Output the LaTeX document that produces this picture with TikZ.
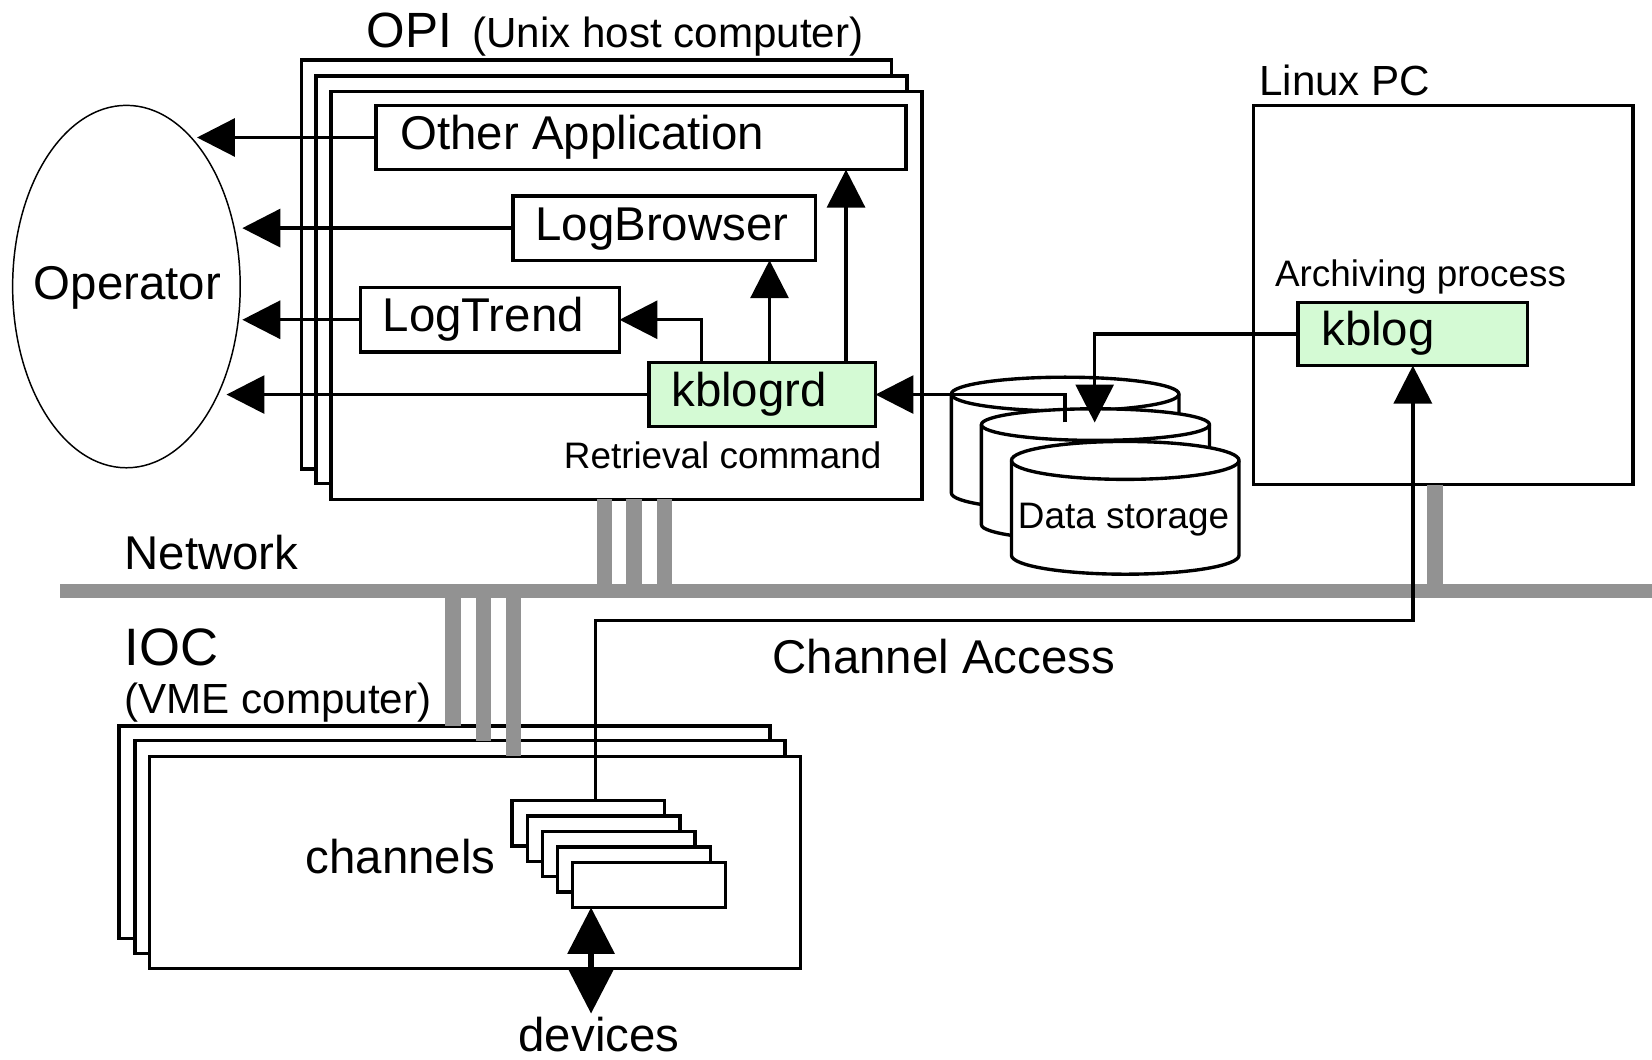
\documentclass[tikz,border=0pt]{standalone}
\usepackage{fontspec}
\setmainfont{Liberation Sans}
\usetikzlibrary{arrows.meta,shapes.geometric}
\definecolor{kgreen}{RGB}{212,250,212}
\definecolor{netgray}{RGB}{146,146,146}
\newcommand\cylshape[5]{%
  \pgfmathsetmacro\cylrx{(#2-#1)/2}%
  \filldraw[fill=white, line width=3.2pt] (#1,#3) -- (#1,#4)
    arc[start angle=180,end angle=360,x radius=\cylrx pt,y radius=#5pt]
    -- (#2,#3)
    arc[start angle=0,end angle=180,x radius=\cylrx pt,y radius=#5pt] -- cycle;
  \draw[line width=3.2pt] (#1,#3) arc[start angle=180,end angle=360,x radius=\cylrx pt,y radius=#5pt];}
\begin{document}
\begin{tikzpicture}[x=1pt,y=-1pt,
  box/.style={draw, line width=3.2pt, fill=white, inner sep=0pt, outer sep=0pt, anchor=north west},
  conn/.style={line width=3.2pt},
  tip/.style={-{Triangle[length=36pt,width=36pt]}},
  net/.style={line width=14pt, draw=netgray},
  lbl/.style={inner sep=0pt, anchor=base west},
  big/.style={font=\fontsize{45}{54}\selectfont},
  midf/.style={font=\fontsize{40}{48}\selectfont},
  smallf/.style={font=\fontsize{35}{42}\selectfont},
]
\useasboundingbox (0,0) rectangle (1568,1006);

% Operator
\node[draw, ellipse, line width=1.4pt, minimum width=216pt, minimum height=344pt, inner sep=0pt] (op) at (120,272) {};
\node[lbl, big] (optext) at (32,284) {Operator};

% OPI stack
\node[lbl, font=\fontsize{47}{56}\selectfont] (opil) at (348,45) {OPI};
\node[lbl, midf] (opil2) at (448,45) {(Unix host computer)};
\node[box, minimum width=560pt, minimum height=388pt] (opiA) at (286,57) {};
\node[box, minimum width=561pt, minimum height=387pt] (opiB) at (300,72) {};
\node[box, minimum width=561pt, minimum height=387pt] (opiC) at (314,87) {};

\node[box, minimum width=503pt, minimum height=61pt] (oa) at (357,100) {};
\node[lbl, big] (oat) at (380,142) {Other Application};
\node[box, minimum width=287pt, minimum height=61pt] (lb) at (487,186) {};
\node[lbl, big] (lbt) at (508,228) {LogBrowser};
\node[box, minimum width=246pt, minimum height=61pt] (lt) at (342,273) {};
\node[lbl, big] (ltt) at (363,315) {LogTrend};
\node[box, fill=kgreen, minimum width=215pt, minimum height=61pt] (kb) at (616,344) {};
\node[lbl, big] (kbt) at (637,386) {kblogrd};
\node[lbl, smallf] (ret) at (535,445) {Retrieval command};

% Linux PC
\node[lbl, midf] (lxl) at (1195,91) {Linux PC};
\node[box, minimum width=360pt, minimum height=360pt] (lx) at (1190,100) {};
\node[lbl, smallf] (arch) at (1210,272) {Archiving process};
\node[box, fill=kgreen, minimum width=218pt, minimum height=60pt] (kl) at (1232,287) {};
\node[lbl, big] (klt) at (1254,328) {kblog};

% Data storage
\cylshape{903}{1119}{374}{468}{16}
\cylshape{931.5}{1148}{403}{498}{15}
\cylshape{960}{1176}{437}{527}{18}
\node[lbl, smallf] (dst) at (966,502) {Data storage};

% Network
\coordinate (nL) at (57,561);
\coordinate (nR) at (1568,561);
\draw[net] (nL) -- (nR);
\node[lbl, big] (netl) at (118,541) {Network};
\foreach \x in {573.5,601.8,630.7} \draw[net, line width=14.5pt] (opiC.south -| \x,0) -- (nL -| \x,0);
\draw[net, line width=14.5pt] (lx.south -| 1362,0) -- (nL -| 1362,0);

% IOC
\node[lbl, font=\fontsize{50}{60}\selectfont] (iocl) at (118,632) {IOC};
\node[lbl, midf] (iocl2) at (118,677) {(VME computer)};
\node[box, minimum width=618pt, minimum height=202pt] (iocA) at (113,689) {};
\node[box, minimum width=617pt, minimum height=202pt] (iocB) at (128,703) {};
\node[box, minimum width=618pt, minimum height=201pt] (iocC) at (142,718) {};
\draw[net, line width=14.5pt] (nL -| 430,0) -- (iocA.north -| 430,0);
\draw[net, line width=14.5pt] (nL -| 459,0) -- (iocB.north -| 459,0);
\draw[net, line width=14.5pt] (nL -| 487.5,0) -- (iocC.north -| 487.5,0);

\node[box, minimum width=145pt, minimum height=43pt] (ch1) at (486,760) {};
\node[box, minimum width=145pt, minimum height=43pt] (ch2) at (500.4,774.6) {};
\node[box, minimum width=145pt, minimum height=43pt] (ch3) at (514.8,789.2) {};
\node[box, minimum width=145pt, minimum height=43pt] (ch4) at (529.2,803.8) {};
\node[box, minimum width=145pt, minimum height=43pt] (ch5) at (543.6,818.4) {};
\node[lbl, big] (cht) at (290,829) {channels};
\node[lbl, big] (dvt) at (492,998) {devices};
\node[lbl, big] (cat) at (733,639) {Channel Access};

% connectors to operator
\coordinate (t1) at (187,0);
\coordinate (t2) at (230,0);
\coordinate (t3) at (230,0);
\coordinate (t4) at (215,0);
\draw[conn,tip] (oa.west) -- (oa.west -| t1);
\draw[conn,tip] (lb.west) -- (lb.west -| t2);
\draw[conn,tip] (lt.west) -- (lt.west -| t3);
\draw[conn,tip] (kb.west) -- (kb.west -| t4);

% kblogrd outputs
\coordinate (k1) at ([xshift=50pt]kb.north west);
\coordinate (k2) at ([xshift=114.4pt]kb.north west);
\coordinate (k3) at ([xshift=187pt]kb.north west);
\draw[conn,tip] (k1) |- (lt.east);
\draw[conn,tip] (k2) -- (k2 |- lb.south);
\draw[conn,tip] (k3) -- (k3 |- oa.south);

% storage links
\coordinate (s1) at (1011,401);
\coordinate (s2) at (1039,401);
\draw[conn,tip] (s1) |- (kb.east);
\draw[conn,tip] (kl.west) -| (s2);

% Channel Access
\coordinate (c1) at ([xshift=7pt]ch1.north);
\coordinate (cay) at (0,589);
\draw[conn,tip] (c1) -- (c1 |- cay) -| (kl.south);

% devices
\coordinate (dv) at (561,962);
\draw[line width=5pt, {Triangle[length=44pt,width=44pt]}-{Triangle[length=44pt,width=44pt]}] (ch5.south -| dv) -- (dv);
\end{tikzpicture}
\end{document}
